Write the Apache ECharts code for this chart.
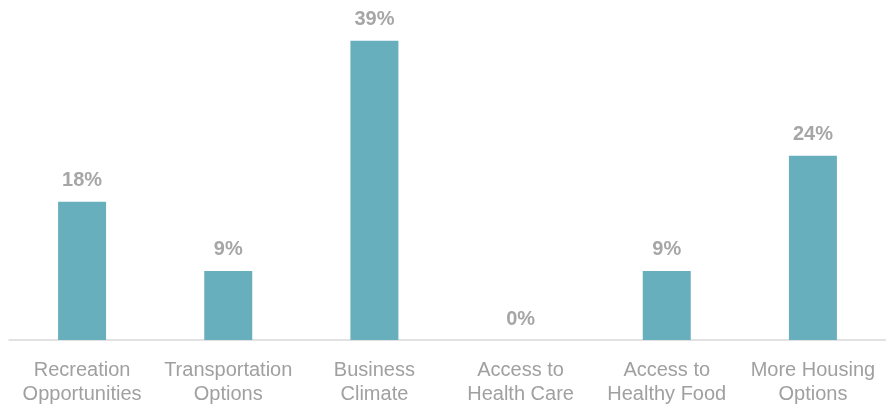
<!DOCTYPE html>
<html>
<head>
<meta charset="utf-8">
<script src="https://cdn.jsdelivr.net/npm/echarts@6/dist/echarts.min.js"></script>
<style>
  html, body { margin: 0; padding: 0; background: #ffffff; }
  #chart { width: 886px; height: 406px; }
</style>
</head>
<body>
<div id="chart"></div>
<script>
// Share of responses by community priority
const categories = [
  'Recreation\nOpportunities',
  'Transportation\nOptions',
  'Business\nClimate',
  'Access to\nHealth Care',
  'Access to\nHealthy Food',
  'More Housing\nOptions'
];
const percentValues = [18, 9, 39, 0, 9, 24];

const chart = echarts.init(document.getElementById('chart'), null, { renderer: 'canvas' });

chart.setOption({
  animation: false,
  backgroundColor: '#ffffff',
  grid: { left: 9, right: 0, top: 33, bottom: 66 },
  xAxis: {
    type: 'category',
    data: categories,
    axisLine: { show: true, lineStyle: { color: '#D9D9D9', width: 1.5 } },
    axisTick: { show: false },
    axisLabel: {
      color: '#A0A0A0',
      fontFamily: 'Liberation Sans, Arial, sans-serif',
      fontSize: 20,
      lineHeight: 24,
      margin: 18,
      interval: 0
    }
  },
  yAxis: {
    type: 'value',
    min: 0,
    max: 40,
    show: false,
    splitLine: { show: false }
  },
  series: [{
    type: 'bar',
    data: percentValues,
    barWidth: 48,
    itemStyle: { color: '#68AFBD' },
    label: {
      show: true,
      position: 'top',
      distance: 11,
      formatter: '{c}%',
      color: '#A6A6A6',
      fontFamily: 'Liberation Sans, Arial, sans-serif',
      fontWeight: 'bold',
      fontSize: 20
    }
  }]
});
</script>
</body>
</html>
